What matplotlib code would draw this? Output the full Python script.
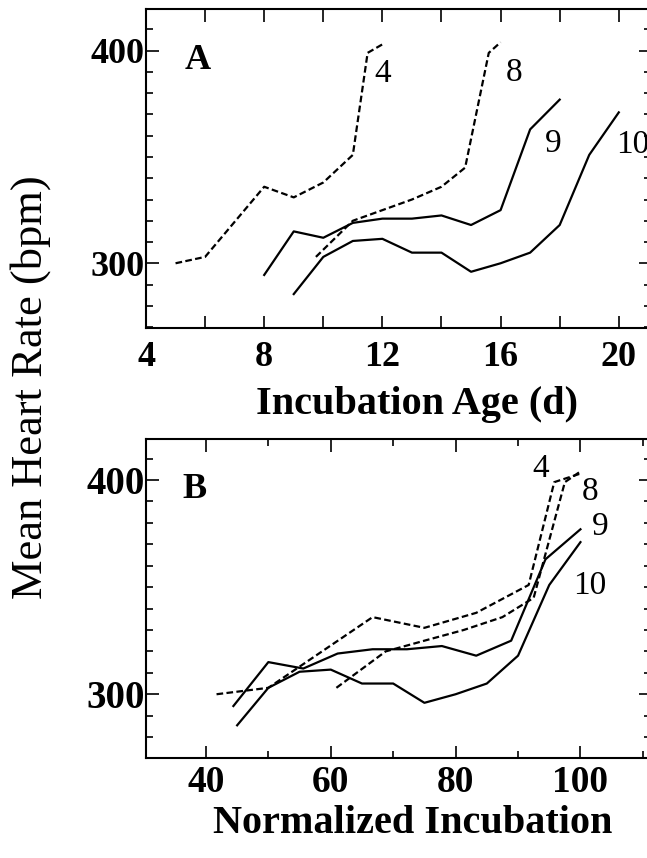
import numpy as np
import matplotlib
matplotlib.use('Agg')
import matplotlib.pyplot as plt
from matplotlib.ticker import MultipleLocator, FixedLocator

plt.rcParams['font.family'] = ['Liberation Serif', 'DejaVu Serif']

## data
# panel A : incubation age (d)
age_4 = [5, 6, 8, 9, 10, 11, 11.5, 12]
hr_4 = [300, 303, 336, 331, 338, 351, 399, 403]
age_8 = [9.75, 11, 12, 13, 14, 14.8, 15.6, 16]
hr_8 = [303, 320, 325, 330, 336, 345, 399, 404]
age_9 = [8, 9, 10, 11, 12, 13, 14, 15, 16, 17, 18]
hr_9 = [294.5, 315, 312, 319, 321, 321, 322.5, 318, 325, 363, 377]
age_10 = [9, 10, 11, 12, 13, 14, 15, 16, 17, 18, 19, 20]
hr_10 = [285.5, 303, 310.5, 311.5, 305, 305, 296, 300, 305, 318, 351, 371]

# panel B : normalized incubation (%)
norm_4 = [41.7, 50, 66.7, 75, 83.3, 91.7, 95.8, 100]
norm_8 = [60.9, 68.8, 75, 81.3, 87.5, 92.5, 97.5, 100]
norm_9 = [44.4, 50, 55.6, 61.1, 66.7, 72.2, 77.8, 83.3, 88.9, 94.4, 100]
norm_10 = [45, 50, 55, 60, 65, 70, 75, 80, 85, 90, 95, 100]

W, H = 647, 858
fig = plt.figure(figsize=(W / 100, H / 100), dpi=100)

def px_axes(left, right, top, bottom):
  return fig.add_axes([left / W, 1 - bottom / H, (right - left) / W, (bottom - top) / H])

axA = px_axes(146, 651, 9.3, 328.3)
axB = px_axes(146, 651, 439.3, 758.3)

dash = dict(color='black', lw=1.6, linestyle=(0, (3, 1.5)))
solid = dict(color='black', lw=1.6)

axA.plot(age_4, hr_4, **dash)
axA.plot(age_8, hr_8, **dash)
axA.plot(age_9, hr_9, **solid)
axA.plot(age_10, hr_10, **solid)

axB.plot(norm_4, hr_4, **dash)
axB.plot(norm_8, hr_8, **dash)
axB.plot(norm_9, hr_9, **solid)
axB.plot(norm_10, hr_10, **solid)

axA.set_xlim(4, 21.09)
axA.set_ylim(269.4, 419.5)
axB.set_xlim(30.4, 111.3)
axB.set_ylim(270.1, 419.0)

axA.xaxis.set_major_locator(MultipleLocator(4))
axA.xaxis.set_minor_locator(FixedLocator([6, 10, 14, 18]))
axB.xaxis.set_major_locator(MultipleLocator(20))
axB.xaxis.set_minor_locator(MultipleLocator(10))

# (axes, x tick size, y tick size, x pad)
for ax, xfs, yfs, xpad in [(axA, 26, 26, 9), (axB, 27, 28, 5)]:
  ax.yaxis.set_major_locator(FixedLocator([300, 400]))
  ax.yaxis.set_minor_locator(MultipleLocator(10))
  for s in ax.spines.values():
    s.set_linewidth(1.5)
  ax.tick_params(which='both', direction='in', top=True, right=True, width=1.2)
  ax.tick_params(which='major', length=9)
  ax.tick_params(which='minor', length=5)
  ax.tick_params(axis='x', which='major', pad=xpad, labelsize=xfs)
  ax.tick_params(axis='y', which='major', pad=1, labelsize=yfs)
  for lab in ax.get_xticklabels() + ax.get_yticklabels():
    lab.set_fontweight('bold')

# ticks in A all the same length
axA.tick_params(axis='x', which='minor', length=9)

axA.set_xlabel('Incubation Age (d)', fontsize=29, fontweight='bold')
axA.xaxis.set_label_coords(0.537, -0.18)
axB.set_xlabel('Normalized Incubation', fontsize=29, fontweight='bold')
axB.xaxis.set_label_coords(0.529, -0.147)

fig.text(31 / W, 1 - 387.5 / H, 'Mean Heart Rate (bpm)', rotation=90,
         ha='center', va='center', fontsize=32)

# panel letters and curve labels
axA.text(5.76, 395.3, 'A', fontsize=26, fontweight='bold', ha='center', va='center')
axB.text(38.2, 395.6, 'B', fontsize=26, fontweight='bold', ha='center', va='center')

lab_kw = dict(fontsize=24, ha='center', va='center')
axA.text(12.0, 389, '4', **lab_kw)
axA.text(16.46, 389.8, '8', **lab_kw)
axA.text(17.78, 356.4, '9', **lab_kw)
axA.text(19.9, 355.6, '10', fontsize=24, ha='left', va='center', clip_on=False)

axB.text(93.6, 405.1, '4', **lab_kw)
axB.text(101.6, 394.5, '8', **lab_kw)
axB.text(103.2, 378.2, '9', **lab_kw)
axB.text(101.5, 350.8, '10', **lab_kw)

fig.savefig('out.png', dpi=100)
